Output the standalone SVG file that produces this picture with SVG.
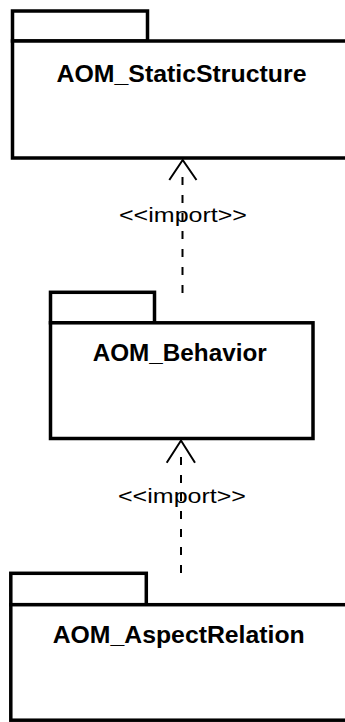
<svg xmlns="http://www.w3.org/2000/svg" width="345" height="722" viewBox="0 0 345 722">
  <style>
    .pkg { fill: #ffffff; stroke: #000000; stroke-width: 3.5; }
    .name { font-family: "Liberation Sans", Arial, sans-serif; font-weight: bold; font-size: 23px; fill: #000000; }
    .dep { fill: none; stroke: #000000; stroke-width: 2; stroke-dasharray: 8 10; }
    .head { fill: none; stroke: #000000; stroke-width: 2; }
    .stereo { font-family: "Liberation Sans", Arial, sans-serif; font-size: 20px; fill: #000000; }
  </style>
  <rect width="345" height="722" fill="#ffffff"/>

  <!-- package: AOM_StaticStructure -->
  <g id="AOM_StaticStructure">
    <rect class="pkg" x="12.5" y="11" width="135" height="30"/>
    <rect class="pkg" x="12.5" y="41" width="360" height="117"/>
    <text class="name" x="56.5" y="81.5" textLength="250" lengthAdjust="spacingAndGlyphs">AOM_StaticStructure</text>
  </g>

  <!-- package: AOM_Behavior -->
  <g id="AOM_Behavior">
    <rect class="pkg" x="50.5" y="292.3" width="104" height="30.5"/>
    <rect class="pkg" x="50.5" y="322.8" width="262.5" height="115.7"/>
    <text class="name" x="92.7" y="361.2" textLength="174" lengthAdjust="spacingAndGlyphs">AOM_Behavior</text>
  </g>

  <!-- package: AOM_AspectRelation -->
  <g id="AOM_AspectRelation">
    <rect class="pkg" x="10.8" y="573.3" width="135.5" height="31.4"/>
    <rect class="pkg" x="10.8" y="604.7" width="360" height="115.5"/>
    <text class="name" x="52.7" y="642.5" textLength="252" lengthAdjust="spacingAndGlyphs">AOM_AspectRelation</text>
  </g>

  <!-- import dependencies: dashed line with open arrowhead -->
  <g id="connectors">
    <g id="import-behavior-static">
      <line class="dep" x1="182.5" y1="177" x2="182.5" y2="293"/>
      <polyline class="head" points="169.3,180 182.7,160 196.5,180"/>
      <text class="stereo" x="119" y="222" textLength="128" lengthAdjust="spacingAndGlyphs">&lt;&lt;import&gt;&gt;</text>
    </g>
    <g id="import-aspect-behavior">
      <line class="dep" x1="181" y1="457" x2="181" y2="573"/>
      <polyline class="head" points="166.7,462.7 181,440.5 195,462.7"/>
      <text class="stereo" x="118" y="503" textLength="128" lengthAdjust="spacingAndGlyphs">&lt;&lt;import&gt;&gt;</text>
    </g>
  </g>
</svg>
